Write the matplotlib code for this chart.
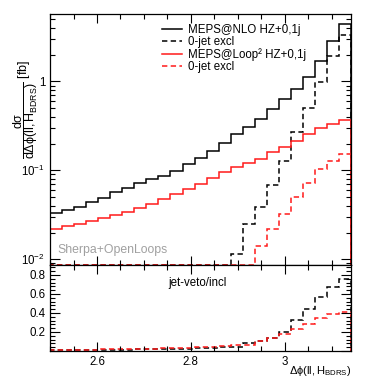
import numpy as np
import matplotlib
matplotlib.use("Agg")
from matplotlib import pyplot as plt
from matplotlib.ticker import MultipleLocator, LogLocator, FuncFormatter, NullFormatter

plt.rcParams['font.family'] = ['Liberation Sans', 'DejaVu Sans']
plt.rcParams['mathtext.fontset'] = 'custom'
plt.rcParams['mathtext.rm'] = 'Liberation Sans'
plt.rcParams['mathtext.it'] = 'Liberation Sans'
plt.rcParams['mathtext.default'] = 'regular'

# binning in delta phi(ll, H_BDRS)
edges = np.linspace(2.5, np.pi, 26)

# MEPS@NLO HZ+0,1j (inclusive) and its 0-jet exclusive part
nlo_incl = [0.0330, 0.0360, 0.0392, 0.0439, 0.0495, 0.0569, 0.0641, 0.0718, 0.0796, 0.0874,
            0.0995, 0.1174, 0.139, 0.166, 0.205, 0.255, 0.306, 0.382, 0.491, 0.636,
            0.824, 1.13, 1.71, 2.87, 4.43]
nlo_excl = [0.00033, 0.00040, 0.00047, 0.00053, 0.00064, 0.00080, 0.00096, 0.00115, 0.00143, 0.00175,
            0.0022, 0.0029, 0.0039, 0.0053, 0.0082, 0.0115, 0.0249, 0.0389, 0.0687, 0.126,
            0.267, 0.504, 0.98, 1.92, 3.36]

# MEPS@Loop^2 HZ+0,1j (inclusive) and its 0-jet exclusive part
loop_incl = [0.0220, 0.0238, 0.0251, 0.0269, 0.0290, 0.0314, 0.0342, 0.0376, 0.0421, 0.0475,
             0.0544, 0.0620, 0.0705, 0.0824, 0.095, 0.108, 0.121, 0.133, 0.160, 0.185,
             0.216, 0.257, 0.300, 0.333, 0.372]
loop_excl = [0.00026, 0.00031, 0.00035, 0.00040, 0.00046, 0.00057, 0.00068, 0.00083, 0.00105, 0.00143,
             0.0018, 0.0022, 0.0028, 0.0037, 0.0049, 0.0065, 0.0080, 0.0142, 0.0218, 0.0325,
             0.050, 0.0718, 0.104, 0.129, 0.154]

labels = ["MEPS@NLO HZ+0,1j", "0-jet excl", "MEPS@Loop\u00b2 HZ+0,1j", "0-jet excl"]

ymin, ymax = 0.00874, 5.73
red = '#ff1a1a'
dash = (0, (3.5, 2.2))

fig = plt.figure(figsize=(3.91, 3.79), dpi=100)
ax = fig.add_axes([0.128, 0.302, 0.770, 0.661])
rax = fig.add_axes([0.128, 0.074, 0.770, 0.228], sharex=ax)

ax.stairs(nlo_incl, edges, color='black', lw=1.1, label=labels[0])
ax.stairs(np.clip(nlo_excl, ymin, None), edges, color='black', lw=1.1, ls=dash, label=labels[1])
ax.stairs(loop_incl, edges, color=red, lw=1.1, label=labels[2])
ax.stairs(np.clip(loop_excl, ymin, None), edges, color=red, lw=1.1, ls=dash, label=labels[3])

ax.set_yscale('log')
ax.set_ylim(ymin, ymax)
ax.set_xlim(edges[0], edges[-1])
ax.yaxis.set_major_locator(LogLocator(base=10))
ax.yaxis.set_minor_locator(LogLocator(base=10, subs=np.arange(2, 10)))
ax.yaxis.set_minor_formatter(NullFormatter())
ax.yaxis.set_major_formatter(FuncFormatter(
    lambda v, p: '1' if abs(v - 1) < 1e-9 else r'$10^{%d}$' % round(np.log10(v))))
ax.xaxis.set_major_locator(MultipleLocator(0.2))
ax.xaxis.set_minor_locator(MultipleLocator(0.05))
ax.xaxis.set_major_formatter(FuncFormatter(lambda v, p: '%g' % round(v, 2)))
ax.tick_params(axis='x', labelbottom=False)

ax.set_ylabel(r'$\dfrac{d\sigma}{d\Delta\phi(ll,H_{BDRS})}$ [fb]', fontsize=9, ha='right')
ax.yaxis.set_label_coords(-0.035, 0.815)

leg = ax.legend(loc='upper left', bbox_to_anchor=(0.372, 0.96), frameon=False, fontsize=8.3,
                handlelength=1.75, handletextpad=0.5, labelspacing=0.0, borderpad=0, borderaxespad=0)

ax.text(0.026, 0.058, 'Sherpa+OpenLoops', transform=ax.transAxes, color='#a0a0a0', fontsize=8.8,
        va='center', ha='left')

# ratio panel
rax.stairs(np.array(nlo_excl) / np.array(nlo_incl), edges, color='black', lw=1.1, ls=dash)
rax.stairs(np.array(loop_excl) / np.array(loop_incl), edges, color=red, lw=1.1, ls=dash)
rax.set_ylim(0, 0.91)
rax.yaxis.set_major_locator(MultipleLocator(0.2))
rax.yaxis.set_minor_locator(MultipleLocator(0.04))
rax.yaxis.set_major_formatter(FuncFormatter(lambda v, p: '' if v < 0.1 else '%g' % round(v, 2)))
rax.text(0.392, 0.79, 'jet-veto/incl', transform=rax.transAxes, fontsize=8.3, va='center', ha='left')
rax.set_xlabel(r'$\Delta\phi(ll,H_{BDRS})$', loc='right', fontsize=8.0, labelpad=-2.6)

for a in (ax, rax):
    a.tick_params(which='both', direction='in', top=True, right=True, labelsize=8.3, width=0.8)
    a.tick_params(axis='x', which='major', length=6.5)
    a.tick_params(axis='x', which='minor', length=3.3)
    a.tick_params(axis='y', which='major', length=7.5)
    a.tick_params(axis='y', which='minor', length=3.8)
    for s in a.spines.values():
        s.set_linewidth(0.9)

plt.savefig('out.png', dpi=100)
